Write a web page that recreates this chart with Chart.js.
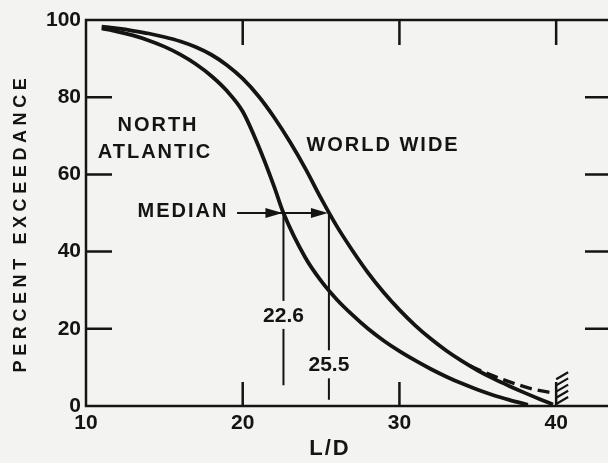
<!DOCTYPE html>
<html>
<head>
<meta charset="utf-8">
<script src="https://cdn.jsdelivr.net/npm/chart.js@4.4.1/dist/chart.umd.min.js"></script>
<style>
  html, body { margin: 0; padding: 0; background: #f3f3f1; overflow: hidden; }
  #wrap { width: 620px; height: 463px; }
</style>
</head>
<body>
<div id="wrap"><canvas id="chart" width="620" height="463"></canvas></div>
<script>
// tick labels
const xTicks = [10, 20, 30, 40];
const yTicks = [0, 20, 40, 60, 80, 100];

// world wide curve
const worldX = [11, 12, 13, 14, 15, 16, 17, 18, 19, 20, 21, 22, 23, 24, 25, 26, 27, 28, 29, 30, 31, 32, 33, 34, 35, 36, 37, 38, 39, 39.8];
const worldY = [98.3, 97.8, 97.2, 96.5, 95.6, 94.5, 93.0, 91.0, 88.3, 84.8, 80.3, 74.8, 68.5, 61.5, 53.8, 46.6, 40.3, 34.5, 29.4, 24.9, 20.9, 17.4, 14.3, 11.6, 9.2, 7.1, 5.2, 3.4, 1.7, 0.4];

// dashed tail of the world wide curve
const tailX = [34.5, 35.5, 36.5, 37.5, 38.5, 39.9];
const tailY = [10.4, 8.6, 7.0, 5.6, 4.4, 3.3];

// north atlantic curve
const atlanticX = [11, 12, 13, 14, 15, 16, 17, 18, 19, 20, 21, 22, 22.6, 24, 25, 26, 27, 28, 29, 30, 31, 32, 33, 34, 35, 36, 37, 38.2];
const atlanticY = [97.8, 97.0, 96.0, 94.7, 93.1, 91.1, 88.6, 85.5, 81.6, 76.3, 67.4, 56.9, 50, 38.4, 32.4, 27.6, 23.6, 20.0, 16.9, 14.2, 11.8, 9.6, 7.6, 5.8, 4.2, 2.8, 1.6, 0.3];

// medians
const medianAtlantic = 22.6;
const medianWorld = 25.5;
const medianLevel = 50;
const arrowStart = 19.64;
const atlanticDrop = 5.4;
const worldDrop = 1.6;

const ink = '#141414';
const paper = '#f3f3f1';
const font = s => `bold ${s}px "Liberation Sans", Arial, sans-serif`;

const toPoints = (xs, ys) => xs.map((v, i) => ({ x: v, y: ys[i] }));

const notes = [
  { text: 'NORTH', x: 14.53, y: 72.8 },
  { text: 'ATLANTIC', x: 14.34, y: 65.7 },
  { text: 'MEDIAN', x: 16.13, y: 50.3 },
  { text: 'WORLD WIDE', x: 28.89, y: 67.5 }
];
const boxedNotes = [
  { text: '22.6', x: medianAtlantic, y: 23.6 },
  { text: '25.5', x: medianWorld, y: 10.8 }
];

const framePlugin = {
  id: 'frame',
  afterDatasetsDraw(chart) {
    const { ctx, chartArea: a, scales: { x, y } } = chart;
    ctx.save();
    ctx.strokeStyle = ink;
    ctx.fillStyle = ink;
    ctx.lineWidth = 2.5;
    ctx.strokeRect(a.left, a.top, a.right - a.left, a.bottom - a.top);

    // inward tick marks on all four sides
    ctx.beginPath();
    yTicks.forEach(v => {
      if (v === 0 || v === 100) return;
      const py = y.getPixelForValue(v);
      ctx.moveTo(a.left, py); ctx.lineTo(a.left + 26, py);
      ctx.moveTo(a.right, py); ctx.lineTo(a.right - 26, py);
    });
    xTicks.forEach(v => {
      if (v === 10) return;
      const px = x.getPixelForValue(v);
      ctx.moveTo(px, a.top); ctx.lineTo(px, a.top + 25);
      ctx.moveTo(px, a.bottom); ctx.lineTo(px, a.bottom - 24);
    });
    ctx.stroke();

    // hatching at the 40 tick
    const hx = x.getPixelForValue(40);
    ctx.lineWidth = 2.2;
    ctx.beginPath();
    for (let i = 0; i < 5; i++) {
      const hy = a.bottom - 2 - i * 6.2;
      ctx.moveTo(hx, hy); ctx.lineTo(hx + 12, hy - 7);
    }
    ctx.stroke();

    // arrow heads on the median line
    const ay = y.getPixelForValue(medianLevel);
    [medianAtlantic, medianWorld].forEach(v => {
      const tip = x.getPixelForValue(v) - 1;
      ctx.beginPath();
      ctx.moveTo(tip, ay);
      ctx.lineTo(tip - 17, ay - 5);
      ctx.lineTo(tip - 17, ay + 5);
      ctx.closePath();
      ctx.fill();
    });

    // labels
    ctx.font = font(20);
    ctx.letterSpacing = '2px';
    ctx.textAlign = 'center';
    ctx.textBaseline = 'middle';
    notes.forEach(n => ctx.fillText(n.text, x.getPixelForValue(n.x) + 1, y.getPixelForValue(n.y)));

    ctx.font = font(21);
    ctx.letterSpacing = '0px';
    boxedNotes.forEach(n => {
      const px = x.getPixelForValue(n.x);
      const py = y.getPixelForValue(n.y);
      const w = ctx.measureText(n.text).width;
      ctx.fillStyle = paper;
      ctx.fillRect(px - w / 2 - 2, py - 14, w + 4, 28);
      ctx.fillStyle = ink;
      ctx.fillText(n.text, px, py + 1);
    });

    // axis titles
    ctx.font = font(22);
    ctx.letterSpacing = '2px';
    ctx.fillText('L/D', (x.getPixelForValue(25.5) + 1), 449);

    ctx.font = font(18);
    ctx.letterSpacing = '4.6px';
    ctx.translate(21.5, 225);
    ctx.rotate(-Math.PI / 2);
    ctx.fillText('PERCENT EXCEEDANCE', 2, 0);
    ctx.restore();
  }
};

const curve = (pts, extra) => Object.assign({
  data: pts,
  borderColor: ink,
  borderWidth: 3.8,
  pointRadius: 0,
  fill: false,
  cubicInterpolationMode: 'monotone'
}, extra);

const rule = (pts, extra) => Object.assign({
  data: pts,
  borderColor: ink,
  borderWidth: 2,
  pointRadius: 0,
  fill: false,
  tension: 0
}, extra);

new Chart(document.getElementById('chart'), {
  type: 'line',
  data: {
    datasets: [
      curve(toPoints(worldX, worldY)),
      curve(toPoints(tailX, tailY), { borderDash: [12, 6], borderWidth: 3.4 }),
      curve(toPoints(atlanticX, atlanticY)),
      rule([{ x: arrowStart, y: medianLevel }, { x: medianWorld - 0.6, y: medianLevel }]),
      rule([{ x: medianAtlantic, y: medianLevel }, { x: medianAtlantic, y: atlanticDrop }]),
      rule([{ x: medianWorld, y: medianLevel }, { x: medianWorld, y: worldDrop }])
    ]
  },
  options: {
    responsive: false,
    animation: false,
    devicePixelRatio: 1,
    layout: { padding: { top: 20, right: 9, left: 0, bottom: 0 } },
    plugins: { legend: { display: false }, tooltip: { enabled: false } },
    scales: {
      x: {
        type: 'linear',
        min: 10,
        max: 43.5,
        afterBuildTicks: s => { s.ticks = xTicks.map(v => ({ value: v })); },
        afterFit: s => { s.height = 57; },
        grid: { display: false, drawTicks: false },
        border: { display: false },
        ticks: { color: ink, font: { family: '"Liberation Sans", Arial, sans-serif', size: 21, weight: 'bold' }, padding: 5, maxRotation: 0 }
      },
      y: {
        min: 0,
        max: 100,
        afterBuildTicks: s => { s.ticks = yTicks.map(v => ({ value: v })); },
        afterFit: s => { s.width = 86; },
        grid: { display: false, drawTicks: false },
        border: { display: false },
        ticks: { color: ink, font: { family: '"Liberation Sans", Arial, sans-serif', size: 21, weight: 'bold' }, padding: 5 }
      }
    }
  },
  plugins: [framePlugin]
});
</script>
</body>
</html>
